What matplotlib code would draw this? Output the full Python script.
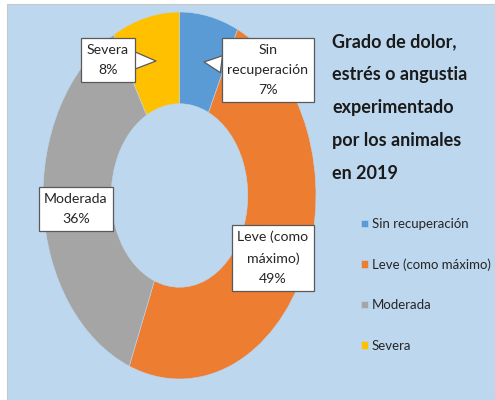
import numpy as np
import matplotlib.pyplot as plt
from matplotlib.patches import Rectangle

# ---- data ---------------------------------------------------------------
categories = ["Sin recuperación", "Leve (como máximo)", "Moderada", "Severa"]
box_labels = ["Sin\nrecuperación", "Leve (como\nmáximo)", "Moderada", "Severa"]
percent = [7, 49, 36, 8]
colors = ["#5B9BD5", "#ED7D31", "#A5A5A5", "#FFC000"]
title = "Grado de dolor,\nestrés o angustia\nexperimentado\npor los animales\nen 2019"

BG = "#BDD7EE"
plt.rcParams["font.family"] = ["Lato", "DejaVu Sans"]

W, H = 495, 400
fig = plt.figure(figsize=(W / 100, H / 100), dpi=100)
fig.patch.set_facecolor("white")
# light blue panel
fig.patches.append(Rectangle((7 / W, 0), 1 - 7 / W, 1 - 4 / H,
                             transform=fig.transFigure, fc=BG, ec="#C8C8C8",
                             lw=0.8, zorder=-5))

# donut is stretched vertically in the reference (ellipse)
cx, cy, rx, ry = 179.5, 195.5, 136.5, 183.5
ax = fig.add_axes([(cx - rx) / W, (H - cy - ry) / H, 2 * rx / W, 2 * ry / H])
ax.set_zorder(2)
ax.patch.set_alpha(0)
wedges, _ = ax.pie(percent, colors=colors, startangle=90, counterclock=False,
                   radius=1.0, wedgeprops=dict(width=0.5, edgecolor=BG, lw=0.4))
ax.set_aspect("auto")
ax.set_xlim(-1, 1)
ax.set_ylim(-1, 1)
ax.axis("off")


def to_data(px, py):
    return (px - cx) / rx, (cy - py) / ry


# label boxes: (text centre in px, pointer tip in px or None)
label_pos = [(268, 70), (273, 258), (76, 209), (108, 60)]
pointer = [(204, 62), None, None, (156, 61)]
box = dict(boxstyle="square,pad=0.4", fc="white", ec="#595959", lw=0.9)
for lab, p, pos, tip in zip(box_labels, percent, label_pos, pointer):
    txt = f"{lab}\n{p}%"
    xt, yt = to_data(*pos)
    if tip is None:
        ax.text(xt, yt, txt, ha="center", va="center", fontsize=10.2,
                color="#262626", bbox=box, linespacing=1.85)
    else:
        ax.annotate(txt, xy=to_data(*tip), xytext=(xt, yt), ha="center",
                    va="center", fontsize=10.2, color="#262626", bbox=box,
                    linespacing=1.85,
                    arrowprops=dict(arrowstyle="wedge,tail_width=1.2",
                                    fc="white", ec="#595959", lw=0.9,
                                    shrinkA=0, shrinkB=0))

# title
fig.text(332 / W, 1 - 33 / H, title, ha="left", va="top", fontsize=13,
         fontweight="bold", color="#1a1a1a", linespacing=2.15)

# legend
leg = fig.legend(wedges, categories, loc="upper left",
                 bbox_to_anchor=(361 / W, 1 - 218 / H), frameon=False,
                 fontsize=9.5, handlelength=0.5, handleheight=0.5,
                 handletextpad=0.3, labelspacing=2.15, borderpad=0,
                 borderaxespad=0, labelcolor="#262626")

fig.savefig("out.png", dpi=100, facecolor=fig.get_facecolor())
